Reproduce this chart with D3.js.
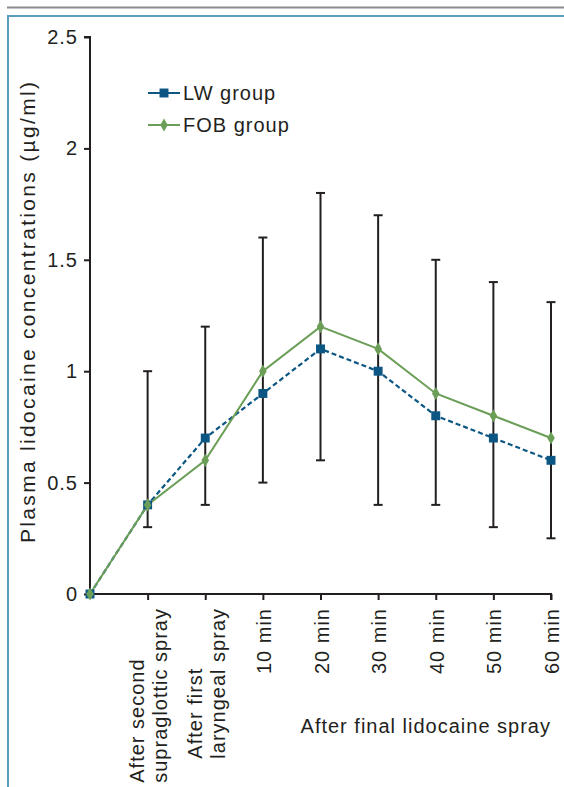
<!DOCTYPE html>
<html>
<head>
<meta charset="utf-8">
<style>
    body { margin: 0; background: #fff; }
    text { font-family: "Liberation Sans", Arial, sans-serif; fill: #231f20; letter-spacing: 1px; }
</style>
</head>
<body>
<script src="https://d3js.org/d3.v7.min.js"></script>
<script>
    // data
    var timepoints = ["0", "After second|supraglottic spray", "After first|laryngeal spray",
        "10 min", "20 min", "30 min", "40 min", "50 min", "60 min"];
    var lwGroup = [0, 0.4, 0.7, 0.9, 1.1, 1.0, 0.8, 0.7, 0.6];
    var fobGroup = [0, 0.4, 0.6, 1.0, 1.2, 1.1, 0.9, 0.8, 0.7];
    var errLow = [null, 0.3, 0.4, 0.5, 0.6, 0.4, 0.4, 0.3, 0.25];
    var errHigh = [null, 1.0, 1.2, 1.6, 1.8, 1.7, 1.5, 1.4, 1.31];
    var yTicks = [0, 0.5, 1, 1.5, 2, 2.5];

    var width = 564, height = 787;
    var svg = d3.select("body").append("svg")
        .attr("width", width)
        .attr("height", height);

    // page frame
    svg.append("line").attr("x1", 7).attr("x2", width).attr("y1", 7.5).attr("y2", 7.5)
        .style("stroke", "#8c8c8c").style("stroke-width", 2);
    svg.append("path").attr("d", "M8," + height + "V16H" + width)
        .style("fill", "none").style("stroke", "#5d9cc1").style("stroke-width", 2);

    var x = d3.scalePoint()
        .domain(d3.range(timepoints.length))
        .range([90, 551]);

    var y = d3.scaleLinear()
        .domain([0, 2.5])
        .range([594, 37]);

    // y axis
    var yAxis = svg.append("g")
        .attr("transform", "translate(90,0)")
        .call(d3.axisLeft(y).tickValues(yTicks).tickSize(6).tickPadding(6)
            .tickFormat(function (d) { return d; }));
    yAxis.select(".domain").attr("d", "M-6," + y(2.5) + "H0V" + y(0));
    yAxis.selectAll("path, line").style("stroke", "#231f20").style("stroke-width", 2);
    yAxis.selectAll("text").style("font-size", "20px").attr("font-family", null);

    // x axis
    var xAxis = svg.append("g")
        .attr("transform", "translate(0,594)")
        .call(d3.axisBottom(x).tickSize(6).tickFormat(""));
    xAxis.select(".domain").attr("d", "M90,0H551V6");
    xAxis.selectAll(".tick").filter(function (d) { return d === 0; }).remove();
    xAxis.selectAll("path, line").style("stroke", "#231f20").style("stroke-width", 2);

    // rotated category labels
    var labelTop = 608;
    timepoints.forEach(function (t, i) {
        if (i === 0) return;
        var lines = t.split("|");
        var g = svg.append("g").attr("transform", "translate(" + (x(i) + 1) + "," + labelTop + ") rotate(-90)");
        var texts = lines.map(function (l, k) {
            return g.append("text")
                .attr("dy", "0.35em")
                .attr("y", (k - (lines.length - 1) / 2) * 23)
                .style("font-size", "20px")
                .text(l);
        });
        var maxLen = d3.max(texts, function (tx) { return tx.node().getComputedTextLength(); });
        texts.forEach(function (tx) {
            tx.attr("x", -maxLen).attr("text-anchor", "start");
        });
    });

    svg.append("text")
        .attr("x", 551).attr("y", 733)
        .attr("text-anchor", "end")
        .style("font-size", "20px")
        .text("After final lidocaine spray");

    svg.append("text")
        .attr("transform", "translate(28,312) rotate(-90)")
        .attr("dy", "0.35em")
        .attr("text-anchor", "middle")
        .attr("textLength", 462)
        .attr("lengthAdjust", "spacing")
        .style("font-size", "21px")
        .text("Plasma lidocaine concentrations (\u00b5g/ml)");

    // error bars
    var bars = svg.append("g").attr("class", "errorbars")
        .selectAll("g")
        .data(d3.range(timepoints.length).filter(function (i) { return errLow[i] !== null; }))
        .enter().append("g")
        .style("stroke", "#231f20").style("stroke-width", 2);
    bars.append("line")
        .attr("x1", function (i) { return x(i); }).attr("x2", function (i) { return x(i); })
        .attr("y1", function (i) { return y(errLow[i]); })
        .attr("y2", function (i) { return y(errHigh[i]); });
    bars.append("line")
        .attr("x1", function (i) { return x(i) - 4.5; }).attr("x2", function (i) { return x(i) + 4.5; })
        .attr("y1", function (i) { return y(errLow[i]); }).attr("y2", function (i) { return y(errLow[i]); });
    bars.append("line")
        .attr("x1", function (i) { return x(i) - 4.5; }).attr("x2", function (i) { return x(i) + 4.5; })
        .attr("y1", function (i) { return y(errHigh[i]); }).attr("y2", function (i) { return y(errHigh[i]); });

    var lwColor = "#0c5684", fobColor = "#6b9e57";

    var line = d3.line()
        .x(function (d, i) { return x(i); })
        .y(function (d) { return y(d); });

    svg.append("path")
        .datum(lwGroup)
        .attr("d", line)
        .style("fill", "none").style("stroke", lwColor)
        .style("stroke-width", 2.2).style("stroke-dasharray", "5,3");

    svg.append("path")
        .datum(fobGroup)
        .attr("d", line)
        .style("fill", "none").style("stroke", fobColor).style("stroke-width", 2);

    var square = d3.symbol().type(d3.symbolSquare).size(80);
    var diamond = d3.symbol().type(d3.symbolDiamond).size(50);

    svg.append("g").selectAll("path")
        .data(lwGroup)
        .enter().append("path")
        .attr("transform", function (d, i) { return "translate(" + x(i) + "," + y(d) + ")"; })
        .attr("d", square)
        .style("fill", lwColor);

    svg.append("g").selectAll("path")
        .data(fobGroup)
        .enter().append("path")
        .attr("transform", function (d, i) { return "translate(" + x(i) + "," + y(d) + ")"; })
        .attr("d", diamond)
        .style("fill", fobColor);

    // legend
    var legend = svg.append("g").attr("class", "legend");
    var legendItems = [
        { name: "LW group", color: lwColor, shape: square },
        { name: "FOB group", color: fobColor, shape: diamond }
    ];
    legendItems.forEach(function (d, k) {
        var ly = 93 + k * 32;
        legend.append("line")
            .attr("x1", 148).attr("x2", 180).attr("y1", ly).attr("y2", ly)
            .style("stroke", d.color).style("stroke-width", 2);
        legend.append("path")
            .attr("transform", "translate(164," + ly + ")")
            .attr("d", d.shape)
            .style("fill", d.color);
        legend.append("text")
            .attr("x", 183).attr("y", ly)
            .attr("dy", "0.35em")
            .style("font-size", "20px")
            .text(d.name);
    });
</script>
</body>
</html>
